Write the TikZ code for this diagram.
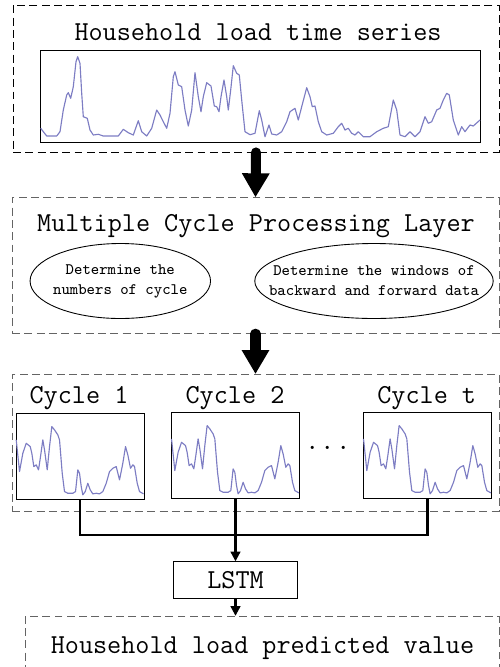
\documentclass[tikz,border=0pt]{standalone}
\usetikzlibrary{arrows.meta,shapes.geometric}
\definecolor{curveblue}{RGB}{125,125,195}
\definecolor{dashgray}{RGB}{100,100,100}

\begin{document}
\begin{tikzpicture}[
      x=0.02cm, y=-0.02cm,
      layer/.style={draw, dashed, dash pattern=on 4.5pt off 2.5pt, line width=0.5pt, inner sep=0pt},
      title/.style={font=\fontsize{15.6}{18}\selectfont\ttfamily, inner sep=0pt},
      task/.style={ellipse, draw, line width=0.5pt, inner sep=0pt, minimum height=1.5cm},
      tasktext/.style={align=center, inner sep=0pt, font=\fontsize{9.1}{11.3}\selectfont\ttfamily},
      plotbox/.style={draw, line width=0.5pt, inner sep=0pt, minimum width=2.57cm, minimum height=1.72cm},
      curve/.style={curveblue, line width=0.65pt, line join=round},
      bigarrow/.style={line width=5.7pt, line cap=round, -{Triangle[width=0.52cm,length=0.48cm]}},
      link/.style={line width=1.2pt},
      linkarrow/.style={line width=1.2pt, -{Triangle[width=5.5pt,length=5.5pt]}}
    ]
    \useasboundingbox (0,0) rectangle (500,667);

    % input series
    \node[layer, minimum width=9.72cm, minimum height=2.94cm] (series) at (256,78.5) {};
    \node[title, anchor=base] (seriestitle) at (258,40) {Household load time series};
    \node[draw, line width=0.5pt, inner sep=0pt, minimum width=8.8cm, minimum height=1.85cm] (seriesplot) at (260,96.3) {};
    \draw[curve] plot coordinates {(40.7,128.3) (46.7,136) (56.7,136) (60,131.7) (63.3,110) (66.7,95) (68.3,92.7) (70.7,98.3) (73.3,86.7) (76,61.7) (77.7,56.7) (80,63.3) (81.7,93.3) (83.3,116.7) (87.3,118.3) (90,130) (93.3,135) (98.3,134.3) (103.3,136) (110,136) (118.3,136) (123.3,129.3) (128.3,132.7) (133.3,135) (138.3,120.7) (141.7,131.7) (146.7,136) (151.7,128.3) (156.7,110) (160,115) (163.3,121.7) (166.7,128.3) (170,113.3) (173.3,76.7) (175,71.7) (178.3,85) (181.7,86.7) (185,110) (188.3,126) (191.7,110) (195,72.7) (198.3,96.7) (201,111.7) (203.3,96.7) (206.7,82.7) (211,86) (214.3,106) (216.7,106.7) (219,111.7) (221,96.7) (224,80) (226.7,96.7) (228.3,110) (230.7,90) (233.3,65.7) (236.7,73.3) (239.3,75) (241.7,100) (245,131.7) (250,134.7) (255,133.3) (259.3,110.7) (261.7,120) (265,136.7) (269,125) (271.7,134) (276.7,135) (281.7,131.7) (286.7,121.7) (290,111.7) (295,108.3) (298.3,120) (301.7,106.7) (306.7,87.7) (310,96.7) (312.3,106.7) (315,106) (318.3,121.7) (321.7,131.7) (326.7,135) (333.3,133.3) (338.3,126.7) (341.7,123.3) (345,130) (348.3,128.3) (351.7,133.3) (355,135) (358.3,131.7) (363.3,136.7) (370,136.7) (376.7,131.7) (383.3,128.3) (388.3,126.7) (393.3,100) (396.7,110) (400,135) (405,136.7) (410,131.7) (415,136.7) (420,131.7) (425,116.7) (428.3,123.3) (431.7,121.7) (436.7,110) (440,108.3) (443.3,100) (446.7,93.3) (449.3,95) (453.3,120) (458.3,135) (461.7,126.7) (465,131.7) (470,125) (473.3,126) (480,120)};

    % processing layer
    \node[layer, draw=dashgray, minimum width=9.74cm, minimum height=2.71cm] (cyclelayer) at (255.5,265.5) {};
    \node[title, anchor=base] (cycletitle) at (256,231) {Multiple Cycle Processing Layer};
    \node[task, minimum width=3.61cm] (cyclenum) at (120.3,281) {};
    \node[tasktext] (cyclenumtext) at (cyclenum) {Determine the\\numbers of cycle};
    \node[task, minimum width=4.77cm] (window) at (374,281) {};
    \node[tasktext] (windowtext) at (window) {Determine the windows of\\backward and forward data};

    % split cycles
    \node[layer, draw=dashgray, minimum width=9.74cm, minimum height=2.73cm] (cyclesplit) at (255.5,442.7) {};
    \node[title, anchor=base] (cyc1label) at (79,403) {Cycle 1};
    \node[title, anchor=base] (cyc2label) at (235,403) {Cycle 2};
    \node[title, anchor=base] (cyctlabel) at (426.7,403) {Cycle t};
    \node[plotbox] (c1) at (80.2,456) {};
    \node[plotbox] (c2) at (235.5,455) {};
    \node[plotbox] (c3) at (427.5,455) {};
    \node[inner sep=0pt, font=\fontsize{16}{16}\selectfont] (dots) at (328,449) {$\cdot$\hspace{4pt}$\cdot$\hspace{4pt}$\cdot$};
    \foreach \b in {c1,c2,c3}
      \draw[curve, shift={(\b.north west)}] plot coordinates {(0.7,27.3) (4,59) (7.3,40.7) (10.7,30.7) (14.7,34) (16.3,40.7) (18.3,54) (20.7,52.3) (23,57.3) (25,44) (27.3,27.3) (29,37.3) (31.7,57.3) (34,34) (36.3,14) (39,17.3) (42.3,22.3) (44,27.3) (46.7,60.7) (49,79) (52.3,80.7) (57.3,80.7) (60,79) (62.3,57.3) (64,60.7) (65.7,74) (67.3,82.3) (69.7,79) (72.3,70.7) (74.7,77.3) (77.3,81.3) (80.7,80.7) (84,81.3) (87.3,79) (90.7,70.7) (94,59) (97.3,55.7) (100.7,54) (104,67.3) (107.3,50.7) (110,34) (112.3,42.3) (115,55.7) (117.3,52.3) (119,54) (121.7,70.7) (124,79) (128,81.3)};

    % model and output
    \node[draw, line width=0.5pt, inner sep=0pt, minimum width=2.48cm, minimum height=0.73cm, title] (lstm) at (235.5,580) {LSTM};
    \node[layer, draw=dashgray, minimum width=9.48cm, minimum height=1.47cm] (result) at (262,653) {};
    \node[title, anchor=base] (resulttext) at (262.5,653) {Household load predicted value};

    \draw[bigarrow] (series.south) -- (cyclelayer.north);
    \draw[bigarrow] (cyclelayer.south) -- (cyclesplit.north);
    \coordinate (join) at (235.5,535);
    \draw[link] (c1.south) |- (join) -| (c3.south);
    \draw[linkarrow] (c2.south) -- (lstm.north);
    \draw[linkarrow] (lstm.south) -- (lstm.south |- result.north);
    \end{tikzpicture}
\end{document}
